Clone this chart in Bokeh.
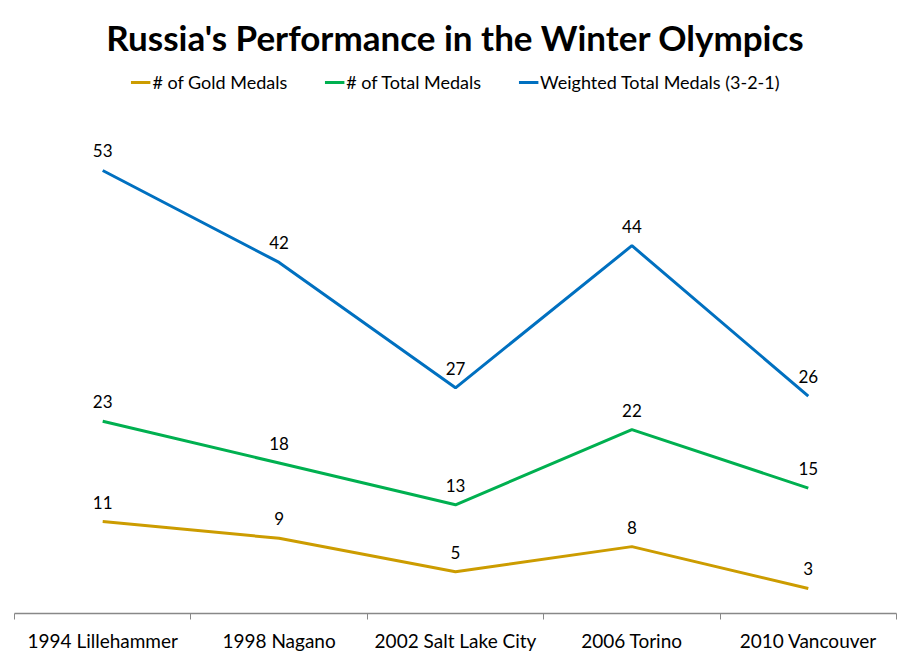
from bokeh.plotting import figure
from bokeh.models import Range1d, FixedTicker, Legend, LegendItem, ColumnDataSource
from bokeh.core.properties import value
from bokeh.embed import file_html
from bokeh.resources import INLINE

games = ["1994 Lillehammer", "1998 Nagano", "2002 Salt Lake City", "2006 Torino", "2010 Vancouver"]
gold = [11, 9, 5, 8, 3]
total = [23, 18, 13, 22, 15]
weighted = [53, 42, 27, 44, 26]

series_names = ["# of Gold Medals", "# of Total Medals", "Weighted Total Medals (3-2-1)"]
series_colors = ["#CC9C00", "#00B050", "#0070C0"]

FONT = "Lato"
xs = [i + 0.5 for i in range(len(games))]

p = figure(width=901, height=654, output_backend="svg", toolbar_location=None,
           x_range=Range1d(0, len(games)), y_range=Range1d(0, 64.84),
           min_border_left=14, min_border_right=5, min_border_bottom=41, min_border_top=70)
p.outline_line_color = None
p.xgrid.grid_line_color = None
p.ygrid.grid_line_color = None
p.yaxis.visible = False
p.background_fill_color = "white"
p.border_fill_color = "white"

p.title.text = "Russia's Performance in the Winter Olympics"
p.title.align = "center"
p.title.text_font = FONT
p.title.text_font_size = "35px"
p.title.text_font_style = "bold"
p.title.text_color = "black"
p.title.standoff = 27

ax = p.xaxis[0]
ax.ticker = FixedTicker(ticks=xs, minor_ticks=list(range(len(games) + 1)))
ax.major_label_overrides = {x: g for x, g in zip(xs, games)}
ax.major_tick_line_color = None
ax.minor_tick_in = 0
ax.minor_tick_out = 6
ax.minor_tick_line_color = "#888888"
ax.axis_line_color = "#888888"
ax.axis_line_width = 1.3
ax.major_label_text_font = FONT
ax.major_label_text_font_size = "19px"
ax.major_label_text_color = "black"
ax.major_label_standoff = 9

items = []
for name, vals, col in zip(series_names, [gold, total, weighted], series_colors):
    src = ColumnDataSource(dict(x=xs, y=vals, t=[str(v) for v in vals]))
    r = p.line("x", "y", source=src, line_color=col, line_width=3)
    p.text("x", "y", text="t", source=src, text_align="center", text_baseline="bottom",
           y_offset=-13, text_font=value(FONT), text_font_size="17px", text_color="black")
    items.append(LegendItem(label=name, renderers=[r]))

legend = Legend(items=items, orientation="horizontal", location="top_center",
                label_text_font=FONT, label_text_font_size="18px", label_text_color="black",
                glyph_width=20, label_standoff=2, spacing=37, border_line_color=None,
                background_fill_alpha=0, padding=2, margin=0)
p.add_layout(legend)

open("out.html", "w").write(file_html(p, INLINE))
